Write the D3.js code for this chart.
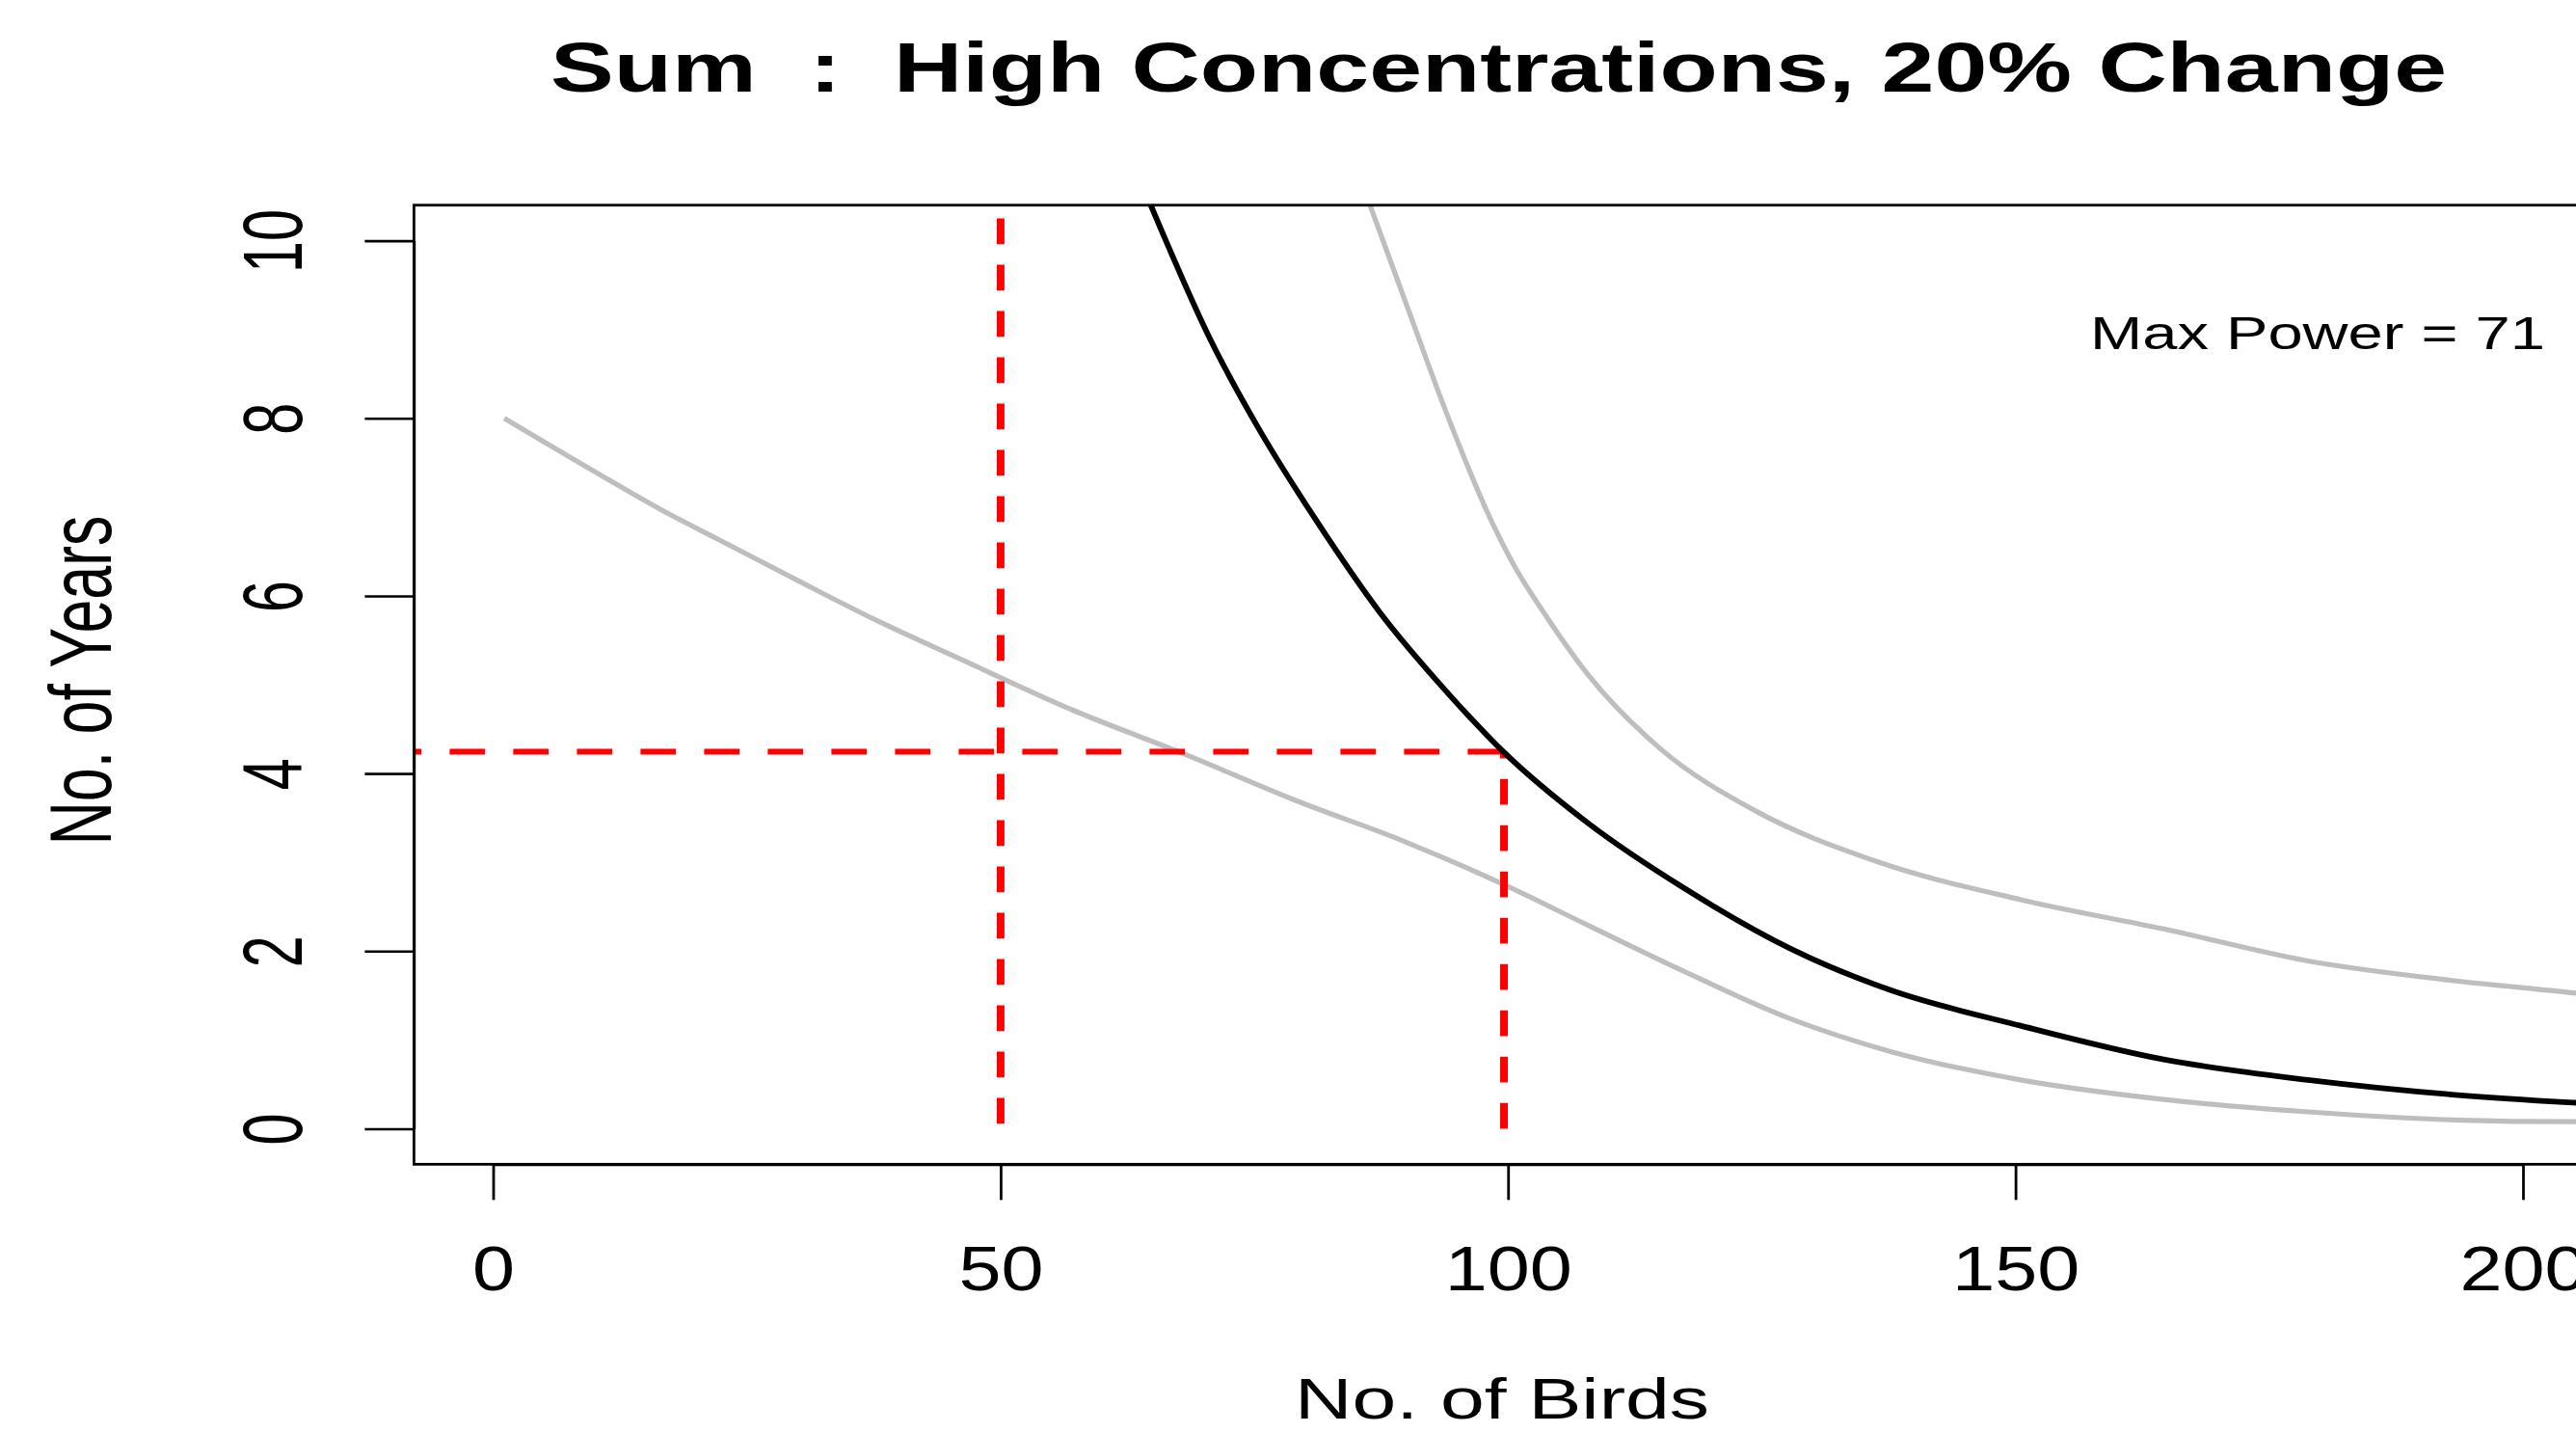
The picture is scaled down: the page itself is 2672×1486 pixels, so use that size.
<!DOCTYPE html>
<head>
	<meta charset="utf-8">
	<script src="https://d3js.org/d3.v7.min.js"></script>
	<style>
		body { margin: 0; background: #fff; }
		text { font-family: "Liberation Sans", Arial, sans-serif; fill: #000; }
	</style>
</head>
<body>
	<div id="chart"></div>
	<script>

	var width = 2672,
	height = 1486;

	// mean number of years needed (black line)
	var meanBirds = [64.8, 70.7, 75.4, 81.1, 87.4, 93.8, 99.5, 107.9, 117.2, 127.8, 137.7, 150.5, 164.6, 178.8, 193.0, 204.9, 206.5];
	var meanYears = [10.4, 8.88, 7.89, 6.85, 5.81, 4.94, 4.25, 3.44, 2.72, 2.03, 1.56, 1.16, 0.78, 0.55, 0.385, 0.295, 0.285];

	// upper bound (grey)
	var upperBirds = [86.4, 90.6, 93.8, 98.5, 100.8, 103.3, 107.9, 115.0, 124.2, 136.3, 150.5, 164.6, 178.8, 193.0, 204.9, 206.5];
	var upperYears = [10.4, 9.09, 8.1, 6.81, 6.3, 5.85, 5.11, 4.28, 3.59, 3.01, 2.58, 2.25, 1.89, 1.67, 1.53, 1.51];

	// lower bound (grey)
	var lowerBirds = [1.1, 10.6, 17.2, 22.3, 29.9, 37.5, 46.4, 57.2, 68.1, 79.0, 89.9, 99.4, 107.9, 117.2, 127.8, 137.7, 150.5, 164.6, 178.8, 193.0, 204.9, 206.5];
	var lowerYears = [8.0, 7.36, 6.93, 6.63, 6.18, 5.74, 5.27, 4.71, 4.22, 3.70, 3.23, 2.76, 2.29, 1.78, 1.24, 0.87, 0.55, 0.33, 0.19, 0.10, 0.08, 0.08];

	var xTicks = [0, 50, 100, 150, 200];
	var yTicks = [0, 2, 4, 6, 8, 10];

	// reference lines
	var refBirds = [50, 99.6];
	var refYears = 4.245;
	var refTop = 10.25;
	var maxPower = 71;

	var titleText = "Sum  :  High Concentrations, 20% Change";

	var svg = d3.select("#chart").append("svg")
	  .attr("width", width)
	  .attr("height", height);

	var x = d3.scaleLinear().domain([0, 200]).range([511.5, 2617]);
	var y = d3.scaleLinear().domain([0, 10]).range([1170.5, 249.6]);

	var usrX = [-7.8, 207.5],
	usrY = [-0.4, 10.4];

	svg.append("clipPath")
		.attr("id", "plotclip")
	  .append("rect")
		.attr("x", x(usrX[0]))
		.attr("y", y(usrY[1]))
		.attr("width", x(usrX[1]) - x(usrX[0]))
		.attr("height", y(usrY[0]) - y(usrY[1]));

	var line = d3.line()
		.x(d => x(d[0]))
		.y(d => y(d[1]))
		.curve(d3.curveMonotoneX);

	var plot = svg.append("g").attr("clip-path", "url(#plotclip)");

	// grey bounds
	plot.selectAll("path.bound")
		.data([d3.zip(upperBirds, upperYears), d3.zip(lowerBirds, lowerYears)])
		.join("path")
		  .attr("class", "bound")
		  .attr("d", line)
		  .attr("fill", "none")
		  .attr("stroke", "#bebebe")
		  .attr("stroke-width", 5.2);

	// red dashed lines
	plot.append("line")
		.attr("x1", x(usrX[0])).attr("x2", x(refBirds[1]))
		.attr("y1", y(refYears)).attr("y2", y(refYears))
		.attr("stroke", "#ff0000")
		.attr("stroke-width", 6)
		.attr("stroke-dasharray", "36.7 29.3")
		.attr("stroke-dashoffset", 29);

	plot.append("line")
		.attr("x1", x(refBirds[0])).attr("x2", x(refBirds[0]))
		.attr("y1", y(refTop)).attr("y2", y(0))
		.attr("stroke", "#ff0000")
		.attr("stroke-width", 8)
		.attr("stroke-dasharray", "26.7 21.3");

	plot.append("line")
		.attr("x1", x(refBirds[1])).attr("x2", x(refBirds[1]))
		.attr("y1", y(0)).attr("y2", y(refYears))
		.attr("stroke", "#ff0000")
		.attr("stroke-width", 8)
		.attr("stroke-dasharray", "26.7 21.3");

	// mean line
	plot.append("path")
		.datum(d3.zip(meanBirds, meanYears))
		.attr("d", line)
		.attr("fill", "none")
		.attr("stroke", "#000")
		.attr("stroke-width", 5.8);

	// box
	svg.append("rect")
		.attr("x", x(usrX[0]))
		.attr("y", y(usrY[1]))
		.attr("width", x(usrX[1]) - x(usrX[0]))
		.attr("height", y(usrY[0]) - y(usrY[1]))
		.attr("fill", "none")
		.attr("stroke", "#000")
		.attr("stroke-width", 2.8);

	// x axis
	svg.append("g")
		.attr("transform", "translate(0," + y(usrY[0]) + ")")
		.call(d3.axisBottom(x).tickValues(xTicks).tickSize(37).tickSizeOuter(0))
		.call(g => g.selectAll("path, line").attr("stroke", "#000").attr("stroke-width", 2.8))
		.call(g => g.selectAll("text")
			.attr("y", 131).attr("dy", 0)
			.attr("font-size", 64)
			.attr("textLength", d => String(d).length * 44)
			.attr("lengthAdjust", "spacingAndGlyphs")
			.attr("fill", "#000"));

	// y axis
	svg.append("g")
		.attr("transform", "translate(" + x(usrX[0]) + ",0)")
		.call(d3.axisLeft(y).tickValues(yTicks).tickSize(51).tickSizeOuter(0))
		.call(g => g.selectAll("path, line").attr("stroke", "#000").attr("stroke-width", 2.6))
		.call(g => g.selectAll("text")
			.attr("x", 0).attr("dy", 0)
			.attr("transform", "translate(" + (312.5 - x(usrX[0])) + ",0) rotate(-90)")
			.attr("text-anchor", "middle")
			.attr("font-size", 88)
			.attr("textLength", d => String(d).length * 33)
			.attr("lengthAdjust", "spacingAndGlyphs")
			.attr("fill", "#000"));

	// titles
	svg.append("text")
		.attr("x", 571)
		.attr("y", 95)
		.style("white-space", "pre")
		.attr("font-weight", "bold")
		.attr("font-size", 72.6)
		.attr("textLength", 1967)
		.attr("lengthAdjust", "spacingAndGlyphs")
		.text(titleText);

	svg.append("text")
		.attr("x", 1343)
		.attr("y", 1471)
		.attr("font-size", 60)
		.attr("textLength", 430)
		.attr("lengthAdjust", "spacingAndGlyphs")
		.text("No. of Birds");

	svg.append("text")
		.attr("transform", "translate(115,705.5) rotate(-90)")
		.attr("text-anchor", "middle")
		.attr("font-size", 91)
		.attr("textLength", 342)
		.attr("lengthAdjust", "spacingAndGlyphs")
		.text("No. of Years");

	svg.append("text")
		.attr("x", 2168)
		.attr("y", 362)
		.attr("font-size", 49)
		.attr("textLength", 472)
		.attr("lengthAdjust", "spacingAndGlyphs")
		.text("Max Power = " + maxPower);

</script>
</body>
</html>
